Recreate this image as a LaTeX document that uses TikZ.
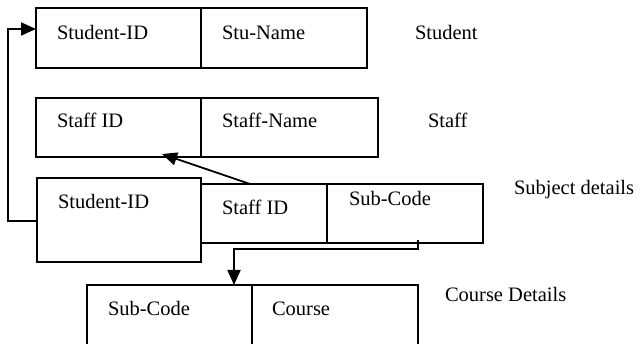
\documentclass[tikz,border=0pt]{standalone}
\usepackage{fontspec}
\setmainfont{Liberation Serif}
\usetikzlibrary{arrows.meta}
\begin{document}
\begin{tikzpicture}[x=1pt,y=-1pt,
  tbox/.style={draw=black, line width=1.8pt, rectangle, inner sep=0pt, outer sep=0pt},
  lab/.style={inner sep=0pt, outer sep=0pt, anchor=base west, font=\fontsize{20.5}{24}\selectfont},
  arr/.style={draw=black, line width=1.8pt, -{Triangle[length=15pt,width=13pt]}},
  lin/.style={draw=black, line width=1.8pt}]
\useasboundingbox (0,0) rectangle (640,344);
% Student
\node[tbox, minimum width=165pt, minimum height=60pt] (s1) at (118.5,38) {};
\node[tbox, minimum width=166pt, minimum height=60pt] (s2) at (284,38) {};
% Staff
\node[tbox, minimum width=165pt, minimum height=59pt] (t1) at (118.5,127.5) {};
\node[tbox, minimum width=177pt, minimum height=59pt] (t2) at (289.5,127.5) {};
% Subject details
\node[tbox, minimum width=164pt, minimum height=84pt] (j1) at (119,220) {};
\node[tbox, minimum width=126pt, minimum height=59pt] (j2) at (264,213.5) {};
\node[tbox, minimum width=156pt, minimum height=59pt] (j3) at (405,213.5) {};
% Course details
\node[tbox, minimum width=165pt, minimum height=62pt] (c1) at (169.5,316) {};
\node[tbox, minimum width=166pt, minimum height=62pt] (c2) at (335,316) {};
% texts
\node[lab] (ts1) at (57,39.5) {Student-ID};
\node[lab] (ts2) at (222,39.5) {Stu-Name};
\node[lab] (ts3) at (415,39.5) {Student};
\node[lab] (tt1) at (57,128) {Staff ID};
\node[lab] (tt2) at (222,128) {Staff-Name};
\node[lab] (tt3) at (428,128) {Staff};
\node[lab] (tj1) at (58,209) {Student-ID};
\node[lab] (tj2) at (222,215) {Staff ID};
\node[lab] (tj3) at (349,206) {Sub-Code};
\node[lab] (tj4) at (514,194.5) {Subject details};
\node[lab] (tc1) at (108,316) {Sub-Code};
\node[lab] (tc2) at (272,316) {Course};
\node[lab] (tc3) at (445,302) {Course Details};
% connectors
\coordinate (a1) at (8,221);
\coordinate (a2) at (8,29);
\draw[arr] (j1.west |- a1) -- (a1) -- (a2) -- (s1.west |- a2);
\coordinate (bx) at (250,0);
\coordinate (b1) at (162,154);
\draw[arr] (j2.north -| bx) -- (b1);
\coordinate (cx) at (418,240);
\coordinate (c3) at (418,249);
\coordinate (c4) at (234,249);
\draw[arr] (cx) -- (c3) -- (c4) -- (c1.north -| c4);
\end{tikzpicture}
\end{document}
